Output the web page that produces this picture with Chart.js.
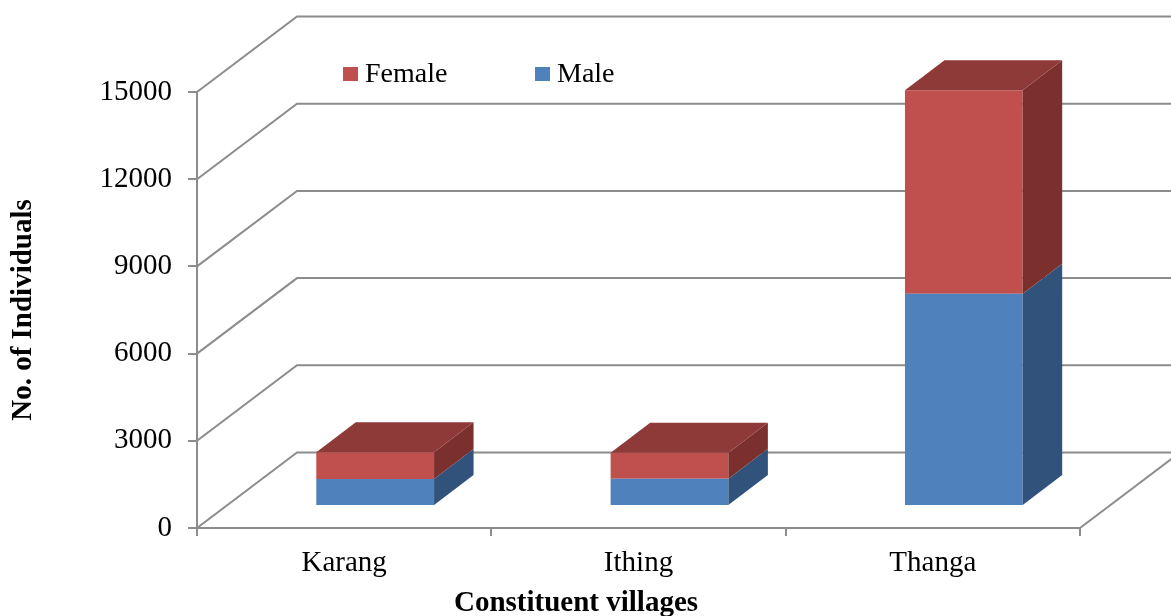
<!DOCTYPE html>
<html>
<head>
<meta charset="utf-8">
<script src="https://cdn.jsdelivr.net/npm/chart.js@4"></script>
<style>
  body { margin: 0; background: #fff; }
  #wrap { width: 1171px; height: 616px; position: relative; }
</style>
</head>
<body>
<div id="wrap"><canvas id="villageChart"></canvas></div>
<script>
/* Population of constituent villages, stacked by sex */
const villages = ['Karang', 'Ithing', 'Thanga'];
const maleCounts = [930, 940, 7300];
const femaleCounts = [915, 895, 7000];
const yTicks = [0, 3000, 6000, 9000, 12000, 15000];

const fontFamily = "'Liberation Serif', 'Times New Roman', serif";
const gridColor = '#8c8c8c';

// fake 3D: walls go back by WALL_*, bars sit a bit behind the front edge
const WALL_DX = 100, WALL_DY = -75.5;
const BAR_DX = 31, BAR_DY = -22;
const DEPTH_DX = 39.5, DEPTH_DY = -30;

const faces = {
  Male:   { front: '#4F81BD', side: '#31537B', top: '#3E6897' },
  Female: { front: '#C0504D', side: '#7B302E', top: '#8E3A39' }
};

const threeD = {
  id: 'threeD',
  beforeDatasetsDraw(chart) {
    const ctx = chart.ctx, a = chart.chartArea, y = chart.scales.y;
    ctx.save();
    ctx.strokeStyle = gridColor;
    ctx.lineWidth = 2;
    yTicks.forEach(v => {
      const py = y.getPixelForValue(v);
      ctx.beginPath();
      ctx.moveTo(a.left, py);
      ctx.lineTo(a.left + WALL_DX, py + WALL_DY);
      ctx.lineTo(chart.width, py + WALL_DY);
      ctx.stroke();
    });
    // right edge of the floor
    ctx.beginPath();
    ctx.moveTo(a.right, a.bottom);
    ctx.lineTo(a.right + WALL_DX, a.bottom + WALL_DY);
    ctx.stroke();
    ctx.restore();

    // bars are drawn pushed back into the box
    ctx.save();
    ctx.translate(BAR_DX, BAR_DY);
  },
  afterDatasetsDraw(chart) {
    const ctx = chart.ctx;
    const last = chart.data.datasets.length - 1;
    chart.data.datasets.forEach((ds, i) => {
      const f = faces[ds.label];
      chart.getDatasetMeta(i).data.forEach(bar => {
        const p = bar.getProps(['x', 'y', 'base', 'width'], true);
        const l = p.x - p.width / 2, r = p.x + p.width / 2;
        // side
        ctx.fillStyle = f.side;
        ctx.beginPath();
        ctx.moveTo(r, p.y);
        ctx.lineTo(r + DEPTH_DX, p.y + DEPTH_DY);
        ctx.lineTo(r + DEPTH_DX, p.base + DEPTH_DY);
        ctx.lineTo(r, p.base);
        ctx.closePath();
        ctx.fill();
        // top only on the upper part of the stack
        if (i === last) {
          ctx.fillStyle = f.top;
          ctx.beginPath();
          ctx.moveTo(l, p.y);
          ctx.lineTo(r, p.y);
          ctx.lineTo(r + DEPTH_DX, p.y + DEPTH_DY);
          ctx.lineTo(l + DEPTH_DX, p.y + DEPTH_DY);
          ctx.closePath();
          ctx.fill();
        }
      });
    });
    ctx.restore();
  },
  afterDraw(chart) {
    const ctx = chart.ctx;
    ctx.save();
    // legend inside the plot
    const items = [['Female', 343], ['Male', 535]];
    ctx.font = '28px ' + fontFamily;
    ctx.textBaseline = 'alphabetic';
    ctx.textAlign = 'left';
    items.forEach(([name, x]) => {
      ctx.fillStyle = faces[name].front;
      ctx.fillRect(x, 67, 15, 14);
      ctx.fillStyle = '#000';
      ctx.fillText(name, x + 22, 82);
    });
    // x axis title
    ctx.font = 'bold 29px ' + fontFamily;
    ctx.textAlign = 'center';
    ctx.fillText('Constituent villages', 576, 611);
    ctx.restore();
  }
};

const ctx = document.getElementById('villageChart').getContext('2d');
const villageChart = new Chart(ctx, {
  type: 'bar',
  data: {
    labels: villages,
    datasets: [{
      label: 'Male',
      data: maleCounts,
      backgroundColor: faces.Male.front,
      borderWidth: 0,
      barPercentage: 0.4,
      categoryPercentage: 1.0
    }, {
      label: 'Female',
      data: femaleCounts,
      backgroundColor: faces.Female.front,
      borderWidth: 0,
      barPercentage: 0.4,
      categoryPercentage: 1.0
    }]
  },
  options: {
    responsive: true,
    maintainAspectRatio: false,
    animation: false,
    layout: {
      padding: { top: 92, right: 91, bottom: 0, left: 0 }
    },
    plugins: {
      legend: { display: false },
      tooltip: { enabled: false }
    },
    scales: {
      x: {
        stacked: true,
        grid: {
          offset: true,
          drawOnChartArea: false,
          tickLength: 8,
          color: gridColor,
          lineWidth: 2
        },
        border: { color: gridColor, width: 2 },
        ticks: {
          color: '#000',
          padding: 10,
          font: { family: fontFamily, size: 29 }
        },
        afterFit: scale => { scale.height = 88; }
      },
      y: {
        stacked: true,
        min: 0,
        max: 15000,
        afterBuildTicks: scale => { scale.ticks = yTicks.map(v => ({ value: v })); },
        grid: {
          drawOnChartArea: false,
          tickLength: 9,
          color: gridColor,
          lineWidth: 2
        },
        border: { color: gridColor, width: 2 },
        ticks: {
          color: '#000',
          padding: 16,
          font: { family: fontFamily, size: 29 },
          callback: value => String(value)
        },
        title: {
          display: true,
          text: 'No. of Individuals',
          color: '#000',
          font: { family: fontFamily, size: 29, weight: 'bold' },
          padding: { top: 6, bottom: 0 }
        },
        afterFit: scale => { scale.width = 197; }
      }
    }
  },
  plugins: [threeD]
});
</script>
</body>
</html>
